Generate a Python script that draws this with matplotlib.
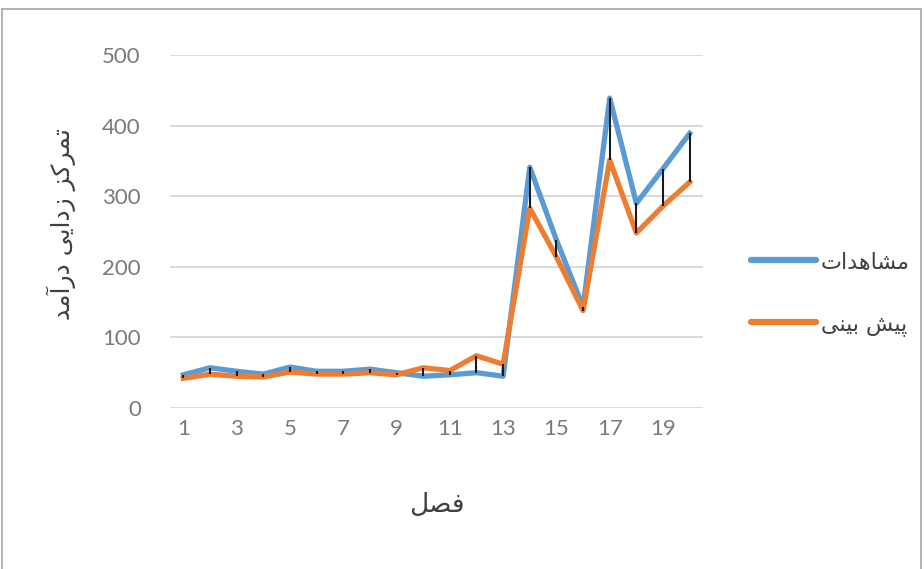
"""
Observed vs predicted series per season, Excel-style line chart
with high-low lines between the two series.
"""
import matplotlib
matplotlib.use('Agg')
import matplotlib.pyplot as plt
from matplotlib.patches import Rectangle


###########  data  ###########

seasons = list(range(1, 21))
observed = [47, 57, 52, 48, 58, 52, 52, 55, 50, 45,
            47, 50, 45, 341, 238, 143, 439, 290, 339, 389]
predicted = [42, 48, 45, 44, 51, 48, 48, 50, 47, 57,
             53, 74, 62, 283, 214, 138, 351, 248, 286, 320]

# Persian labels, written as shaped presentation forms in visual order
# (matplotlib does no bidi / arabic shaping on its own)
LABEL_OBS = '\uFEE3\uFEB8\uFE8E\uFEEB\uFEAA\uFE8D\uFE95'[::-1]          # مشاهدات
LABEL_PRED = '\uFB58\uFEF4\uFEB6 \uFE91\uFEF4\uFEE8\uFEF0'[::-1]        # پیش بینی
XLABEL = '\uFED3\uFEBC\uFEDE'[::-1]                                      # فصل
YLABEL = ('\uFE97\uFEE4\uFEAE\uFB90\uFEB0 '                              # تمرکز
          '\uFEAF\uFEA9\uFE8D\uFEF3\uFEF0 '                              # زدایی
          '\uFEA9\uFEAD\uFE81\uFEE3\uFEAA')[::-1]                        # درآمد

xticks = list(range(1, 21, 2))
yticks = [0, 100, 200, 300, 400, 500]

###########################################


###########  style  ###########

BLUE = '#5B9BD5'
ORANGE = '#ED7D31'
GRID = '#D9D9D9'
TEXT = '#7a7a7a'
TITLE = '#404040'
NUM_FONT = ['Lato', 'DejaVu Sans']
AR_FONT = ['DejaVu Sans']

###########################################


fig = plt.figure(figsize=(9.24, 5.69), dpi=100)
ax = fig.add_axes([170/924, 1 - 408/569, 533/924, 353/569])

ax.plot(seasons, observed, color=BLUE, lw=3.8, solid_joinstyle='round', zorder=3)
ax.plot(seasons, predicted, color=ORANGE, lw=3.8, solid_joinstyle='round', zorder=4)

# high-low lines
lo = [min(a, b) for a, b in zip(observed, predicted)]
hi = [max(a, b) for a, b in zip(observed, predicted)]
ax.vlines(seasons, lo, hi, color='#1a1a1a', lw=1.5, zorder=5)

ax.set_xlim(0.5, 20.5)
ax.set_ylim(0, 500)
ax.set_xticks(xticks)
ax.set_yticks(yticks)
ax.yaxis.grid(True, color=GRID, lw=1.4)
ax.set_axisbelow(True)
for s in ax.spines.values():
    s.set_visible(False)
ax.tick_params(length=0, labelcolor=TEXT, labelsize=16)
ax.tick_params(axis='x', pad=8)
ax.tick_params(axis='y', pad=21)
for lab in ax.get_xticklabels() + ax.get_yticklabels():
    lab.set_family(NUM_FONT)

ax.set_xlabel(XLABEL, family=AR_FONT, fontsize=19, color=TITLE, labelpad=38)
ax.set_ylabel(YLABEL, family=AR_FONT, fontsize=18, color=TITLE)
ax.yaxis.set_label_coords(-0.176, 0.52)

# legend on the right
h_obs, = ax.plot([], [], color=BLUE, lw=4.5, solid_capstyle='round')
h_pred, = ax.plot([], [], color=ORANGE, lw=4.5, solid_capstyle='round')
leg = fig.legend([h_obs, h_pred], [LABEL_OBS, LABEL_PRED],
                 loc='center left', bbox_to_anchor=(0.791, 1 - 294/569),
                 frameon=False, handlelength=2.95, handletextpad=0.2,
                 labelspacing=1.9, prop={'family': AR_FONT, 'size': 16})
for t in leg.get_texts():
    t.set_color(TITLE)

# outer border of the chart area
fig.add_artist(Rectangle((0.002, -0.01), 0.995, 0.995, transform=fig.transFigure,
                         fill=False, edgecolor='#A6A6A6', lw=1.2))

fig.savefig('out.png', dpi=100)
